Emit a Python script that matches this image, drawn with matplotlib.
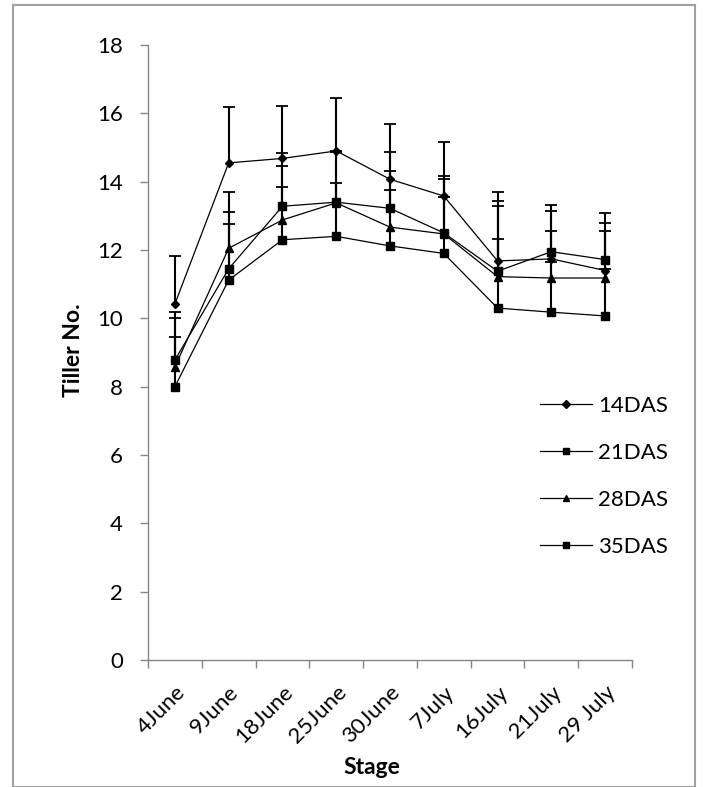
import numpy as np
import matplotlib
matplotlib.use("Agg")
import matplotlib.pyplot as plt
from matplotlib.patches import Rectangle
from matplotlib.lines import Line2D

plt.rcParams['font.family'] = ['Lato', 'DejaVu Sans']

# data
stages = ["4June", "9June", "18June", "25June", "30June", "7July", "16July", "21July", "29 July"]
das14 = [10.42, 14.55, 14.68, 14.90, 14.07, 13.58, 11.68, 11.74, 11.40]
das14_err = [1.40, 1.65, 1.54, 1.55, 1.63, 1.59, 2.02, 1.59, 1.67]
das21 = [8.78, 11.45, 13.28, 13.40, 13.22, 12.50, 11.38, 11.95, 11.72]
das21_err = [1.42, 1.65, 1.57, 1.48, 1.66, 1.68, 2.05, 1.18, 1.06]
das28 = [8.58, 12.05, 12.88, 13.38, 12.67, 12.47, 11.22, 11.18, 11.18]
das28_err = [1.42, 1.65, 1.57, 1.52, 1.65, 1.61, 2.06, 1.39, 1.37]
das35 = [8.00, 11.12, 12.30, 12.40, 12.12, 11.90, 10.30, 10.18, 10.07]
das35_err = [1.45, 1.65, 1.55, 1.57, 1.65, 1.65, 2.03, 1.47, 1.38]

series = [
    ("14DAS", das14, das14_err, "D", 4.5),
    ("21DAS", das21, das21_err, "s", 5.8),
    ("28DAS", das28, das28_err, "^", 5.5),
    ("35DAS", das35, das35_err, "s", 5.8),
]

fig = plt.figure(figsize=(7.03, 7.87), dpi=100)
ax = fig.add_axes([148 / 703, 1 - 660 / 787, 484 / 703, 615 / 787])

x = np.arange(len(stages))
grey = "#868686"

handles = []
for name, vals, err, mk, ms in series:
    vals = np.array(vals)
    err = np.array(err)
    line, caps, bars = ax.errorbar(
        x, vals, yerr=[np.zeros_like(err), err], color="black", lw=0.9,
        marker=mk, ms=ms, elinewidth=1.5, capsize=4, capthick=1.3,
        zorder=3)
    # plus-only error bars, hide the lower caps
    caps[0].set_visible(False)
    handles.append(Line2D([], [], color="black", lw=0.9, marker=mk,
                          ms=ms * 0.85, label=name))

ax.set_xlim(-0.5, len(stages) - 0.5)
ax.set_ylim(0, 18)
ax.set_yticks(np.arange(0, 19, 2))
ax.set_xticks(x)
ax.set_xticklabels(stages, rotation=45, ha="right", rotation_mode="anchor")
ax.set_xticks(np.arange(-0.5, len(stages)), minor=True)
ax.tick_params(axis="x", which="major", length=0, pad=16, labelsize=16)
ax.tick_params(axis="x", which="minor", length=6, color=grey, width=1)
ax.tick_params(axis="y", length=6, color=grey, width=1, labelsize=16, pad=12)

for s in ["top", "right"]:
    ax.spines[s].set_visible(False)
for s in ["left", "bottom"]:
    ax.spines[s].set_color(grey)
    ax.spines[s].set_linewidth(1)

fig.text(73 / 703, 1 - 350 / 787, "Tiller No.", rotation=90, ha="center",
         va="center", fontsize=16.5, fontweight="bold")
fig.text(372 / 703, 1 - 768 / 787, "Stage", ha="center", va="center",
         fontsize=16.5, fontweight="bold")

ax.legend(handles=handles, loc="center left",
          bbox_to_anchor=(540 / 703, 1 - 476.5 / 787),
          bbox_transform=fig.transFigure, frameon=False, fontsize=16,
          handlelength=2.35, handletextpad=0.25, labelspacing=1.22,
          borderpad=0, borderaxespad=0)

# chart border
fig.patches.append(Rectangle((13 / 703, 0.0), (695 - 13) / 703, 1 - 5 / 787,
                             transform=fig.transFigure, fill=False,
                             edgecolor="#a0a0a0", lw=1.5))

fig.savefig("out.png", dpi=100)
